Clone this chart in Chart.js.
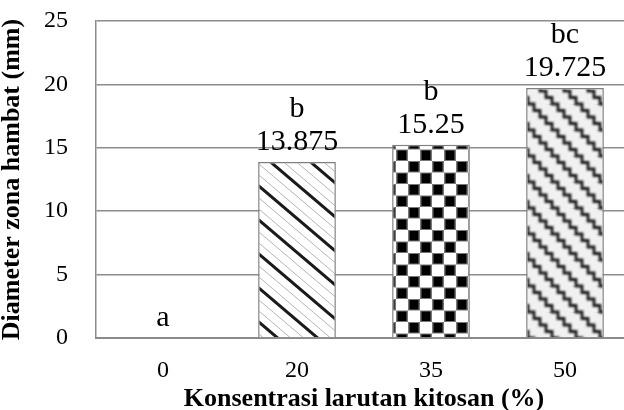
<!DOCTYPE html>
<html><head><meta charset="utf-8">
<script src="https://cdn.jsdelivr.net/npm/chart.js@4"></script>
<style>html,body{margin:0;padding:0;overflow:hidden;background:#fff}#wrap{width:632px;height:410px;position:relative}</style>
</head><body><div id="wrap"><canvas id="c" width="632" height="410"></canvas></div>
<script>
const categories = ['0', '20', '35', '50'];
const values = [0, 13.875, 15.25, 19.725];
const valueLabels = ['', '13.875', '15.25', '19.725'];
const letters = ['a', 'b', 'b', 'bc'];
const yTicks = [0, 5, 10, 15, 20, 25];

function makeTile(w, h, draw) {
  const t = document.createElement('canvas');
  t.width = w; t.height = h;
  const g = t.getContext('2d');
  g.fillStyle = '#fff'; g.fillRect(0, 0, w, h);
  draw(g, w, h);
  return document.getElementById('c').getContext('2d').createPattern(t, 'repeat');
}
// diagonal stripes
const pDiag = makeTile(40, 34, (g, w, h) => {
  const line = (off, lw, col) => {
    g.strokeStyle = col; g.lineWidth = lw;
    for (let k = -2; k <= 2; k++) {
      g.beginPath();
      g.moveTo(off + k * w - w, -h);
      g.lineTo(off + k * w + 2 * w, 2 * h);
      g.stroke();
    }
  };
  line(13, 1, '#b5b5b5');
  line(26, 1, '#b5b5b5');
  line(0, 3, '#1a1a1a');
});
// checkerboard
const pCheck = makeTile(24, 23, (g, w, h) => {
  g.fillStyle = '#777';
  g.fillRect(0, 0, 12, 11.5); g.fillRect(12, 11.5, 12, 11.5);
  g.fillStyle = '#000';
  g.fillRect(1.5, 1, 9, 9.5); g.fillRect(13.5, 12.5, 9, 9.5);
});
// zigzag wave
const pWave = makeTile(24, 26, (g, w, h) => {
  g.filter = 'blur(1.1px)';
  g.strokeStyle = '#111'; g.lineWidth = 2.8; g.lineJoin = 'miter';
  for (let k = -1; k <= 1; k++) {
    g.beginPath();
    const ox = k * w;
    g.moveTo(ox - 6, -6.5);
    for (let s = 0; s < 5; s++) {
      const x = ox + s * 6, y = s * 6.5;
      g.lineTo(x, y);
      g.lineTo(x + 6, y);
      g.lineTo(x + 6, y + 6.5);
    }
    g.stroke();
  }
  g.filter = 'none';
  g.fillStyle = 'rgba(120,120,120,0.10)'; g.fillRect(0, 0, w, h);
});

const labelPlugin = {
  id: 'lbl',
  afterDatasetsDraw(chart) {
    const ctx = chart.ctx;
    const meta = chart.getDatasetMeta(0);
    ctx.save();
    ctx.font = '30px "Liberation Serif"';
    ctx.fillStyle = '#000';
    ctx.textAlign = 'center';
    ctx.textBaseline = 'middle';
    meta.data.forEach((el, i) => {
      if (valueLabels[i]) {
        ctx.fillText(valueLabels[i], el.x, el.y - 20);
        ctx.fillText(letters[i], el.x, el.y - 53);
      } else {
        ctx.fillText(letters[i], el.x, el.y - 20);
      }
    });
    ctx.restore();
  }
};

new Chart(document.getElementById('c'), {
  type: 'bar',
  data: {
    labels: categories,
    datasets: [{
      data: values,
      backgroundColor: ['#fff', pDiag, pCheck, pWave],
      borderColor: '#808080',
      borderWidth: [0, 1.5, 1.5, 1.5],
      barPercentage: 0.58,
      categoryPercentage: 1
    }]
  },
  options: {
    responsive: false,
    animation: false,
    devicePixelRatio: 1,
    layout: { padding: { top: 21, right: 0, bottom: 0, left: 0 } },
    plugins: { legend: { display: false }, tooltip: { enabled: false } },
    scales: {
      x: {
        offset: true,
        grid: { display: false, drawTicks: false },
        border: { display: true, color: '#8a8a8a', width: 2 },
        ticks: { font: { family: 'Liberation Serif', size: 24 }, color: '#000', padding: 18 },
        title: {
          display: true, text: 'Konsentrasi larutan kitosan (%)',
          font: { family: 'Liberation Serif', size: 26, weight: 'bold', lineHeight: 1 },
          color: '#000', padding: { top: 0, bottom: -2 }
        },
        afterFit(s) { s.height = 72; s.paddingLeft = 0; s.paddingRight = 0; }
      },
      y: {
        min: 0, max: 25,
        afterBuildTicks(s) { s.ticks = yTicks.map(v => ({ value: v })); },
        grid: { color: '#8c8c8c', lineWidth: 1.5, drawTicks: false },
        border: { display: true, color: '#8c8c8c', width: 1.5 },
        ticks: { font: { family: 'Liberation Serif', size: 24 }, color: '#000', padding: 28 },
        title: {
          display: true, text: 'Diameter zona hambat (mm)',
          font: { family: 'Liberation Serif', size: 26, weight: 'bold', lineHeight: 1 },
          color: '#000', padding: { top: -1, bottom: 0 }
        },
        afterFit(s) { s.width = 96; s.paddingTop = 0; s.paddingBottom = 0; }
      }
    }
  },
  plugins: [labelPlugin]
});
</script>
</body></html>
